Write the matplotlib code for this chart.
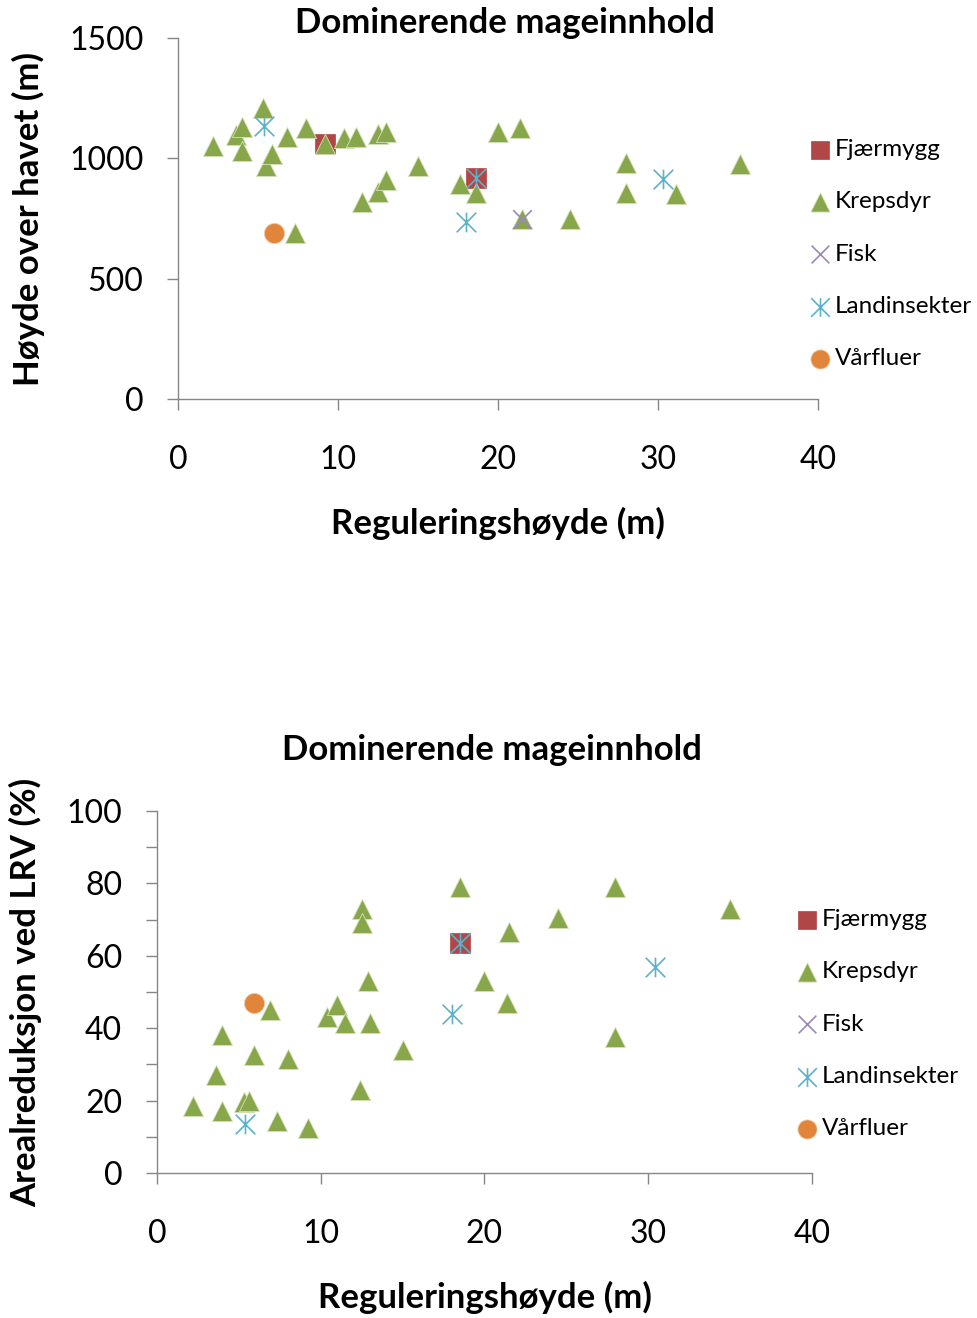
import matplotlib
matplotlib.use("Agg")
import matplotlib.pyplot as plt
import matplotlib.transforms as mtransforms
from matplotlib.path import Path

plt.rcParams['font.family'] = ['Lato', 'DejaVu Sans']

# ---------------- data ----------------
series_names = ["Fjærmygg", "Krepsdyr", "Fisk", "Landinsekter", "Vårfluer"]

# Top chart: Reguleringshøyde (m) vs Høyde over havet (m)
fjaer_top_x = [9.2, 18.6]
fjaer_top_y = [1060, 920]
kreps_top_x = [2.2, 3.6, 4.0, 4.0, 5.3, 5.5, 5.9, 6.8, 7.3, 8.0, 9.2, 10.4, 11.1, 11.5, 12.5,
               12.5, 13.0, 13.0, 15.0, 17.6, 18.6, 20.0, 21.4, 21.5, 24.5, 28.0, 28.0, 31.1, 35.1]
kreps_top_y = [1050, 1095, 1130, 1030, 1210, 970, 1020, 1090, 690, 1125, 1060, 1085, 1090, 820, 1100,
               860, 1110, 910, 970, 895, 855, 1110, 1125, 750, 750, 980, 855, 850, 975]
fisk_top_x = [21.5]
fisk_top_y = [750]
land_top_x = [5.4, 18.0, 18.6, 30.3]
land_top_y = [1135, 735, 920, 915]
vaar_top_x = [6.0]
vaar_top_y = [690]

# Bottom chart: Reguleringshøyde (m) vs Arealreduksjon ved LRV (%)
fjaer_bot_x = [18.5]
fjaer_bot_y = [63.5]
kreps_bot_x = [2.2, 3.6, 4.0, 4.0, 5.3, 5.6, 5.9, 6.9, 7.3, 8.0, 9.2, 10.4, 11.0, 11.5, 12.4,
               12.5, 12.5, 12.9, 13.0, 15.0, 18.5, 20.0, 21.4, 21.5, 24.5, 28.0, 28.0, 35.0]
kreps_bot_y = [18.5, 27, 38, 17, 19.5, 20, 32.5, 45, 14.5, 31.5, 12.5, 43, 46.5, 41.5, 23,
               73, 69, 53, 41.5, 34, 79, 53, 47, 66.5, 70.5, 79, 37.5, 73]
fisk_bot_x = []
fisk_bot_y = []
land_bot_x = [5.4, 18.0, 18.5, 30.4]
land_bot_y = [13.5, 44, 63.5, 57]
vaar_bot_x = [5.9]
vaar_bot_y = [47]

x_ticks = [0, 10, 20, 30, 40]
top_y_ticks = [0, 500, 1000, 1500]
bot_y_ticks = [0, 20, 40, 60, 80, 100]
bot_y_minor = [10, 30, 50, 70, 90]

title = "Dominerende mageinnhold"
xlabel = "Reguleringshøyde (m)"
top_ylabel = "Høyde over havet (m)"
bot_ylabel = "Arealreduksjon ved LRV (%)"

# ---------------- style ----------------
asterisk = Path([(-1, -1), (1, 1), (-1, 1), (1, -1), (0, -1), (0, 1)],
                [Path.MOVETO, Path.LINETO, Path.MOVETO, Path.LINETO, Path.MOVETO, Path.LINETO])

styles = {
    "Fjærmygg": dict(marker='s', color='#B04645', size=190, edge='#B04645', lw=0.5),
    "Krepsdyr": dict(marker='^', color='#88A64A', size=210, edge='#D5E2BC', lw=0.6),
    "Fisk": dict(marker='x', color='#9C87BC', size=180, edge=None, lw=1.2),
    "Landinsekter": dict(marker=asterisk, color='#5BB2CC', size=200, edge=None, lw=1.2),
    "Vårfluer": dict(marker='o', color='#E0853A', size=210, edge='#F3C9A4', lw=0.6),
}

W, H = 978, 1318
fig = plt.figure(figsize=(W / 100, H / 100), dpi=100)

GRAY = '#868686'
TICK_FS = 23
LABEL_FS = 25
TITLE_FS = 25
LEG_FS = 17.5


def draw(ax_rect, data, ylim, yticks, yminor, ylabel, title_xy, legend_xy, ylabel_x):
    ax = fig.add_axes(ax_rect)
    for name, (xs, ys) in zip(series_names, data):
        st = styles[name]
        if st['edge'] is None:
            ax.scatter(xs, ys, marker=st['marker'], s=st['size'], c=st['color'],
                       linewidths=st['lw'], label=name, zorder=3)
        else:
            ax.scatter(xs, ys, marker=st['marker'], s=st['size'], c=st['color'],
                       edgecolors=st['edge'], linewidths=st['lw'], label=name, zorder=3)
    ax.set_xlim(0, 40)
    ax.set_ylim(*ylim)
    ax.set_xticks(x_ticks)
    ax.set_yticks(yticks)
    if yminor:
        ax.set_yticks(yminor, minor=True)
    for s in ['top', 'right']:
        ax.spines[s].set_visible(False)
    for s in ['left', 'bottom']:
        ax.spines[s].set_color(GRAY)
        ax.spines[s].set_linewidth(1.0)
    ax.tick_params(axis='both', which='both', direction='out', length=8, width=1.0,
                   color=GRAY, labelsize=TICK_FS, labelcolor='black')
    ax.tick_params(axis='x', pad=25)
    ax.tick_params(axis='y', pad=17)
    ax.set_xlabel(xlabel, fontsize=LABEL_FS, fontweight='bold', labelpad=23)
    ax.set_ylabel(ylabel, fontsize=LABEL_FS, fontweight='bold')
    ax.yaxis.set_label_coords(ylabel_x, 0.5, transform=mtransforms.blended_transform_factory(
        fig.transFigure, ax.transAxes))
    fig.text(title_xy[0] / W, 1 - title_xy[1] / H, title, fontsize=TITLE_FS, fontweight='bold',
             ha='center', va='center')
    ax.legend(loc='upper left', bbox_to_anchor=(legend_xy[0] / W, 1 - legend_xy[1] / H),
              bbox_transform=fig.transFigure, frameon=False, fontsize=LEG_FS,
              scatterpoints=1, markerscale=0.95, handlelength=0.6, handletextpad=0.3,
              labelspacing=1.29, borderpad=0, borderaxespad=0)
    return ax


draw([178 / W, 1 - 399 / H, 640 / W, 361 / H],
     [(fjaer_top_x, fjaer_top_y), (kreps_top_x, kreps_top_y), (fisk_top_x, fisk_top_y),
      (land_top_x, land_top_y), (vaar_top_x, vaar_top_y)],
     (0, 1500), top_y_ticks, None, top_ylabel, (505, 23), (813, 139), 45 / W)

draw([157 / W, 1 - 1173 / H, 655 / W, 362 / H],
     [(fjaer_bot_x, fjaer_bot_y), (kreps_bot_x, kreps_bot_y), (fisk_bot_x, fisk_bot_y),
      (land_bot_x, land_bot_y), (vaar_bot_x, vaar_bot_y)],
     (0, 100), bot_y_ticks, bot_y_minor, bot_ylabel, (492, 750), (800, 909), 42 / W)

fig.savefig("out.png", dpi=100)
